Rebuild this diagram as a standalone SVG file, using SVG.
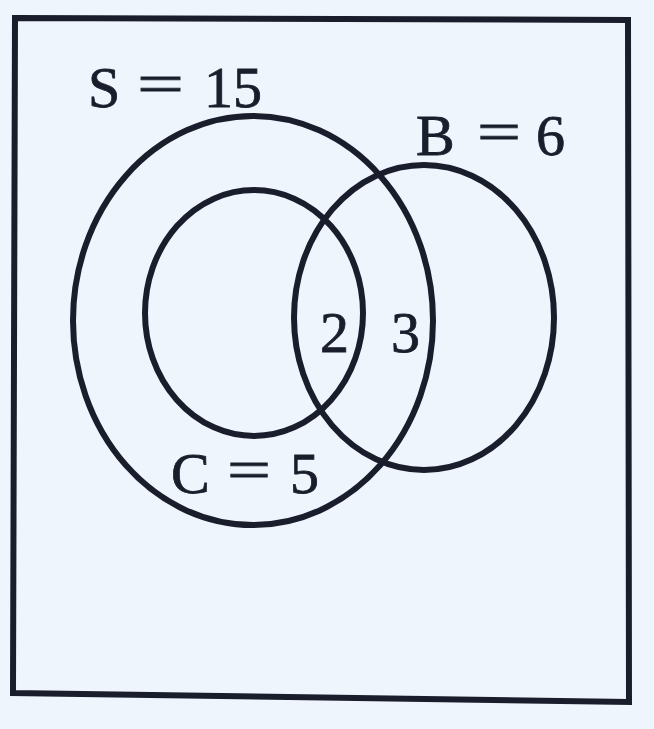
<svg xmlns="http://www.w3.org/2000/svg" width="654" height="729" viewBox="0 0 654 729">
  <style>
    .bg { fill: #eff5fd; }
    .frame { fill: none; stroke: #1a1e2c; stroke-width: 6; stroke-linejoin: miter; }
    .set { fill: none; stroke: #1a1e2c; stroke-width: 6; }
    .lbl { font-family: "Liberation Serif", "Times New Roman", serif; font-size: 58px; fill: #1a1e2c; stroke: #1a1e2c; stroke-width: 0.8; }
  </style>
  <rect class="bg" x="0" y="0" width="654" height="729"/>
  <polygon class="frame" points="15,18 628,20 629,702 13,693"/>
  <g id="set-S">
    <ellipse class="set" cx="253" cy="320.5" rx="180" ry="204.5"/>
    <text class="lbl" x="88" y="107">S</text>
    <text class="lbl" x="137" y="103" textLength="47" lengthAdjust="spacingAndGlyphs">=</text>
    <text class="lbl" x="204" y="107">15</text>
  </g>
  <g id="set-C">
    <ellipse class="set" cx="254" cy="313" rx="109" ry="123"/>
    <text class="lbl" x="171" y="493">C</text>
    <text class="lbl" x="227" y="489" textLength="44" lengthAdjust="spacingAndGlyphs">=</text>
    <text class="lbl" x="290" y="493">5</text>
  </g>
  <g id="set-B">
    <ellipse class="set" cx="424" cy="317.5" rx="130" ry="152.5"/>
    <text class="lbl" x="416" y="155">B</text>
    <text class="lbl" x="477" y="151" textLength="44" lengthAdjust="spacingAndGlyphs">=</text>
    <text class="lbl" x="536" y="155">6</text>
  </g>
  <g id="region-CB">
    <text class="lbl" x="320" y="352">2</text>
  </g>
  <g id="region-SB">
    <text class="lbl" x="391" y="352">3</text>
  </g>
  <g id="connectors"></g>
</svg>
